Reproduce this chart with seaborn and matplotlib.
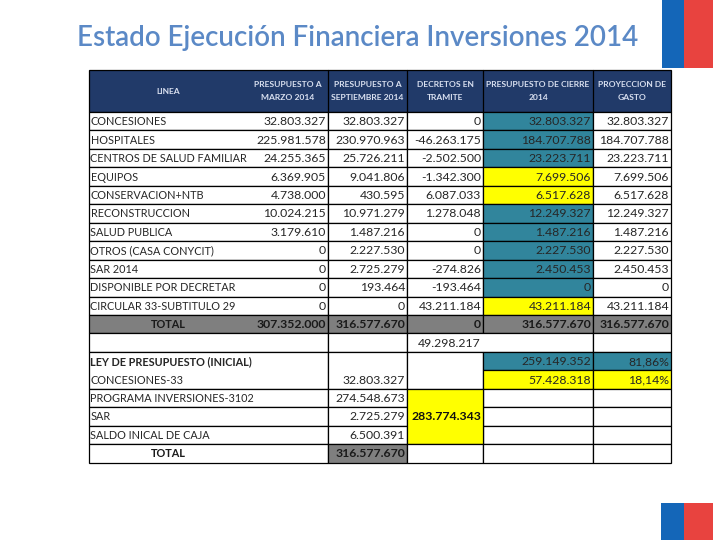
import matplotlib
matplotlib.use("Agg")
import matplotlib.pyplot as plt
from matplotlib import font_manager
from matplotlib.patches import Rectangle
import seaborn as sns

# ---------------- data ----------------
title = "Estado Ejecución Financiera Inversiones 2014"
headers = ["LINEA", "PRESUPUESTO A\nMARZO 2014", "PRESUPUESTO A\nSEPTIEMBRE 2014",
           "DECRETOS EN\nTRAMITE", "PRESUPUESTO DE CIERRE\n2014", "PROYECCION DE\nGASTO"]
lineas = ["CONCESIONES", "HOSPITALES", "CENTROS DE SALUD FAMILIAR", "EQUIPOS",
          "CONSERVACION+NTB", "RECONSTRUCCION", "SALUD PUBLICA", "OTROS (CASA CONYCIT)",
          "SAR 2014", "DISPONIBLE POR DECRETAR", "CIRCULAR 33-SUBTITULO 29"]
marzo = [32803327, 225981578, 24255365, 6369905, 4738000, 10024215, 3179610, 0, 0, 0, 0]
septiembre = [32803327, 230970963, 25726211, 9041806, 430595, 10971279, 1487216,
              2227530, 2725279, 193464, 0]
decretos = [0, -46263175, -2502500, -1342300, 6087033, 1278048, 0, 0, -274826,
            -193464, 43211184]
cierre = [32803327, 184707788, 23223711, 7699506, 6517628, 12249327, 1487216,
          2227530, 2450453, 0, 43211184]
proyeccion = [32803327, 184707788, 23223711, 7699506, 6517628, 12249327, 1487216,
              2227530, 2450453, 0, 43211184]
cierre_grupo = ["A", "A", "A", "B", "B", "A", "A", "A", "A", "A", "B"]
totales = [307352000, 316577670, 0, 316577670, 316577670]
decretos_positivos = 49298217
ley_titulo = "LEY DE PRESUPUESTO (INICIAL)"
ley_lineas = ["CONCESIONES-33", "PROGRAMA INVERSIONES-3102", "SAR", "SALDO INICAL DE CAJA"]
ley_montos = [32803327, 274548673, 2725279, 6500391]
ley_total = 316577670
programa_subtotal = 283774343
grupo_montos = [259149352, 57428318]
grupo_pct = [81.86, 18.14]

# ---------------- style ----------------
sns.set_theme(style="white")
avail = {f.name for f in font_manager.fontManager.ttflist}
narrow = "Liberation Sans Narrow" if "Liberation Sans Narrow" in avail else "Lato"
plt.rcParams["font.family"] = [narrow, "DejaVu Sans"]

NAVY = "#213A69"
HEAD_TXT = "#D9E0F0"
TEAL = "#31859C"
YELLOW = "#FFFF00"
GRAY = "#7F7F7F"
TXT = "#262626"
DARK = "#1A1A1A"
fill_map = {"A": TEAL, "B": YELLOW}

def fmt(v):
    return f"{v:,}".replace(",", ".")

def pct(p):
    return f"{p:.2f}%".replace(".", ",")

fig = plt.figure(figsize=(7.2, 5.4), dpi=100)
ax = fig.add_axes([0, 0, 1, 1])
ax.set_xlim(0, 720)
ax.set_ylim(540, 0)
ax.axis("off")

# layout (column edges / row heights of the slide table)
cx = [89, 248, 328, 407, 483, 593, 671]
head_top, head_bot = 70, 112
rh = 18.45
FS_NUM = 8.8
FS_LAB = 7.8

def ry(i):
    return head_bot + i * rh

def cell(c0, c1, r0, r1, fill="white", lw=0.9):
    x0, x1 = cx[c0], cx[c1]
    y0, y1 = ry(r0), ry(r1)
    ax.add_patch(Rectangle((x0, y0), x1 - x0, y1 - y0, facecolor=fill,
                           edgecolor="black", linewidth=lw, zorder=2))

def num(c, r, text, bold=False, color=TXT, span=1.0):
    ax.text(cx[c + 1] - 2, ry(r) + span * rh / 2 + 0.5, text, ha="right", va="center",
            fontsize=FS_NUM, color=color, fontweight="bold" if bold else "normal", zorder=3)

def lab(r, text, bold=False):
    ax.text(cx[0] + 1.5, ry(r) + rh / 2 + 0.5, text, ha="left", va="center",
            fontsize=FS_LAB, color=TXT, fontweight="bold" if bold else "normal", zorder=3)

# title
ax.text(358, 38, title, ha="center", va="center", fontsize=20, color="#5B89C6",
        family=["Lato", "DejaVu Sans"], fontweight="semibold")

# flags
ax.add_patch(Rectangle((662, 0), 22, 68, facecolor="#1466B8", edgecolor="none"))
ax.add_patch(Rectangle((684, 0), 29, 68, facecolor="#E8433F", edgecolor="none"))
ax.add_patch(Rectangle((661, 503), 23, 37, facecolor="#1466B8", edgecolor="none"))
ax.add_patch(Rectangle((684, 503), 29, 37, facecolor="#E8433F", edgecolor="none"))

# header
ax.add_patch(Rectangle((cx[0], head_top), cx[-1] - cx[0], head_bot - head_top,
                       facecolor=NAVY, edgecolor="black", linewidth=0.9, zorder=2))
for j, h in enumerate(headers):
    if j >= 2:
        ax.plot([cx[j], cx[j]], [head_top, head_bot], color="black", lw=0.9, zorder=2)
    ax.text((cx[j] + cx[j + 1]) / 2, (head_top + head_bot) / 2, h, ha="center",
            va="center", fontsize=6.1, color=HEAD_TXT, fontweight="bold",
            linespacing=2.0, zorder=3)

# main rows
cols = [marzo, septiembre, decretos, cierre, proyeccion]
for i, name in enumerate(lineas):
    cell(0, 2, i, i + 1)
    for j in range(1, 5):
        fill = fill_map[cierre_grupo[i]] if j == 3 else "white"
        cell(j + 1, j + 2, i, i + 1, fill=fill)
    for j in range(5):
        num(j + 1, i, fmt(cols[j][i]))
    lab(i, name)

# total row
r = len(lineas)
cell(0, 2, r, r + 1, fill=GRAY)
for j in range(2, 6):
    cell(j, j + 1, r, r + 1, fill=GRAY)
ax.text((cx[0] + cx[1]) / 2, ry(r) + rh / 2 + 0.5, "TOTAL", ha="center", va="center",
        fontsize=FS_LAB, fontweight="bold", color=DARK, zorder=3)
for j, v in enumerate(totales):
    num(j + 1, r, fmt(v), bold=True, color=DARK)

# positive decrees row
r = len(lineas) + 1
cell(0, 2, r, r + 1)
cell(2, 3, r, r + 1)
cell(3, 5, r, r + 1)
cell(5, 6, r, r + 1)
num(3, r, fmt(decretos_positivos))

# ley rows
r0 = r + 1
cell(0, 2, r0, r0 + 2)
cell(2, 3, r0, r0 + 2)
cell(3, 4, r0, r0 + 2)
for k, g in enumerate(["A", "B"]):
    cell(4, 5, r0 + k, r0 + k + 1, fill=fill_map[g])
    cell(5, 6, r0 + k, r0 + k + 1, fill=fill_map[g])
    num(4, r0 + k, fmt(grupo_montos[k]))
    num(5, r0 + k, pct(grupo_pct[k]))
lab(r0, ley_titulo, bold=True)
lab(r0 + 1, ley_lineas[0])
num(2, r0 + 1, fmt(ley_montos[0]))

r1 = r0 + 2
for k in range(1, 4):
    rr = r1 + k - 1
    cell(0, 2, rr, rr + 1)
    cell(2, 3, rr, rr + 1)
    cell(4, 5, rr, rr + 1)
    cell(5, 6, rr, rr + 1)
    lab(rr, ley_lineas[k])
    num(2, rr, fmt(ley_montos[k]))
cell(3, 4, r1, r1 + 3, fill=YELLOW)
num(3, r1, fmt(programa_subtotal), bold=True, color="#111111", span=3.0)

rt = r1 + 3
cell(0, 2, rt, rt + 1)
cell(2, 3, rt, rt + 1, fill=GRAY)
cell(3, 4, rt, rt + 1)
cell(4, 5, rt, rt + 1)
cell(5, 6, rt, rt + 1)
ax.text((cx[0] + cx[1]) / 2, ry(rt) + rh / 2 + 0.5, "TOTAL", ha="center", va="center",
        fontsize=FS_LAB, fontweight="bold", color=DARK, zorder=3)
num(2, rt, fmt(ley_total), bold=True, color=DARK)

fig.savefig("out.png", dpi=100, facecolor="white")
